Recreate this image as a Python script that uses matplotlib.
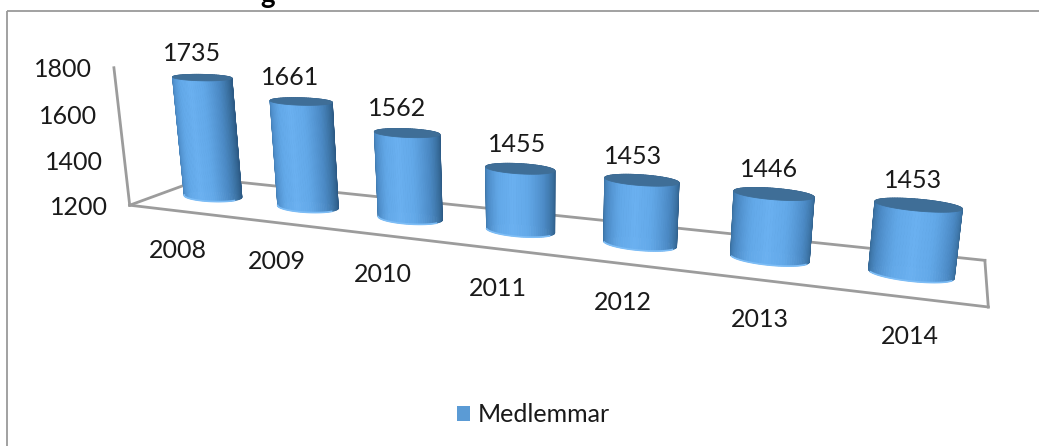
import numpy as np
import matplotlib
matplotlib.use("Agg")
import matplotlib.pyplot as plt
from matplotlib.collections import PolyCollection
from matplotlib.colors import LinearSegmentedColormap
from matplotlib.patches import Polygon, Rectangle

years = ["2008", "2009", "2010", "2011", "2012", "2013", "2014"]
members = [1735, 1661, 1562, 1455, 1453, 1446, 1453]
y_ticks = [1200, 1400, 1600, 1800]
series_name = "Medlemmar"

W, H = 1039, 446
plt.rcParams["font.family"] = ["Lato", "DejaVu Sans"]
fig = plt.figure(figsize=(W / 100, H / 100), dpi=100)
ax = fig.add_axes([0, 0, 1, 1])
ax.set_xlim(0, W)
ax.set_ylim(H, 0)
ax.axis("off")

# Camera calibration: model (category pos, depth, value) -> picture pixel
calib = [
    ((0, 0, 1200), (130, 206)),
    ((7, 0, 1200), (987, 307)),
    ((7, 1, 1200), (984, 260)),
    ((0, 1, 1200), (203, 178)),
    ((0, 0, 1800), (114, 66)),
    ((0.5, 0.5, 1735), (202, 78)),
    ((6.5, 0.5, 1453), (917, 205)),
    ((6.5, 0.5, 1200), (915, 273)),
    ((3.5, 0.5, 1455), (521, 172)),
    ((3.5, 0.5, 1200), (518, 229)),
]
rows = []
for (a, b, c), (u, v) in calib:
    c = (c - 1200) / 600
    rows.append([a, b, c, 1, 0, 0, 0, 0, -u * a, -u * b, -u * c, -u])
    rows.append([0, 0, 0, 0, a, b, c, 1, -v * a, -v * b, -v * c, -v])
P = np.linalg.svd(np.array(rows, float))[2][-1].reshape(3, 4)


def proj(a, b, val):
    a, b, val = np.broadcast_arrays(a, b, val)
    m = np.stack([a, b, (val - 1200) / 600, np.ones_like(a, dtype=float)], axis=0)
    r = P @ m.reshape(4, -1)
    return r[0] / r[2], r[1] / r[2]


# Chart frame
ax.add_patch(Rectangle((6.5, 10.5), 1100, 500, fill=False, ec="#9a9a9a", lw=1.3))

# Floor and axis
AX = "#9c9c9c"
for p0, p1 in [((0, 0, 1200), (0, 0, 1800)), ((0, 0, 1200), (7, 0, 1200)),
               ((0, 0, 1200), (0, 1, 1200)), ((0, 1, 1200), (7, 1, 1200)),
               ((7, 1, 1200), (7, 0, 1200))]:
    x0, y0 = proj(*p0)
    x1, y1 = proj(*p1)
    ax.plot([x0[0], x1[0]], [y0[0], y1[0]], color=AX, lw=2.0, solid_capstyle="projecting", zorder=1)

cmap = LinearSegmentedColormap.from_list(
    "cyl", [(0, "#6ab0f0"), (0.25, "#62a8e8"), (0.55, "#4c8bc6"), (0.8, "#3a6f9f"), (1, "#2c5a85")])
RX, RY = 0.29, 0.16
label_dx = [-10, -11, -10, -3, -9, -5, -5]
th = np.radians(np.arange(0, 361, 4))
for i, val in enumerate(members):
    cx = i + 0.5
    ca, cb = cx + RX * np.cos(th), 0.5 + RY * np.sin(th)
    xb, yb = proj(ca, cb, 1200.0)
    xt, yt = proj(ca, cb, float(val))
    quads, cols = [], []
    mids = (th[:-1] + th[1:]) / 2
    dist = np.abs(np.angle(np.exp(1j * (mids + np.pi / 2))))
    for k in np.argsort(-dist):
        quads.append([(xb[k], yb[k]), (xb[k + 1], yb[k + 1]), (xt[k + 1], yt[k + 1]), (xt[k], yt[k])])
        cols.append(cmap(min(dist[k] / (np.pi * 0.55), 1.0)))
    ax.add_collection(PolyCollection(quads, facecolors=cols, edgecolors=cols, linewidths=0.6, zorder=3 + i))
    front = (np.degrees(th) >= 200) & (np.degrees(th) <= 340)
    ax.plot(xb[front], yb[front], color="#7dbdf6", lw=1.2, zorder=3 + i)
    ax.add_patch(Polygon(np.c_[xt, yt], closed=True, fc="#3f6e97", ec="#3f6e97", lw=0.6, zorder=3 + i))
    tx, ty = proj(cx, 0.5, float(val))
    ax.text(tx[0] + label_dx[i], ty[0] - 24, str(val), ha="center", va="center", fontsize=18, color="#1a1a1a", zorder=20)
    fx, fy = proj(cx, 0.0, 1200.0)
    ax.text(fx[0] + 2, fy[0] + 39.5, years[i], ha="center", va="center", fontsize=18, color="#1a1a1a")

for t in y_ticks:
    x, y = proj(0.0, 0.0, float(t))
    ax.text(x[0] - 51, y[0] + 2, str(t), ha="center", va="center", fontsize=18, color="#1a1a1a")

# Legend
ax.add_patch(Rectangle((457, 406), 13, 15, fc="#5b9bd5", ec="none"))
ax.text(478, 414, series_name, ha="left", va="center", fontsize=18, color="#1a1a1a")

# Title, cropped by the top edge of the picture
ax.text(268, 3, "g", ha="center", va="baseline", fontsize=20, fontweight="bold", color="black", clip_on=True)

fig.savefig("out.png", dpi=100)
